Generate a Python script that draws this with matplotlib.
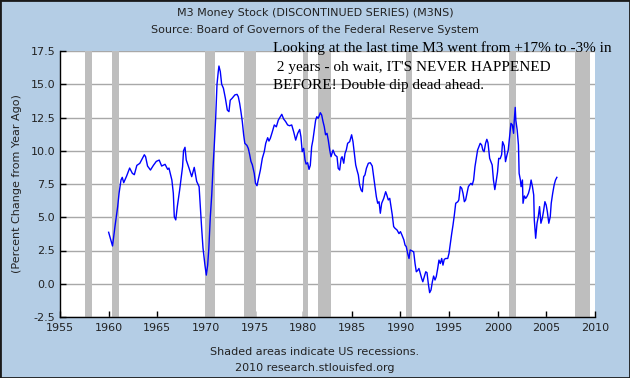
import matplotlib
matplotlib.use("Agg")
import matplotlib.pyplot as plt
from matplotlib.patches import Rectangle

# M3 year-over-year growth (decimal year, percent)
years = [
    1960.00, 1960.40, 1960.65, 1960.93, 1961.07, 1961.27, 1961.40, 1961.55, 1961.85, 1962.16,
    1962.44, 1962.64, 1962.90, 1963.20, 1963.67, 1963.80, 1964.00, 1964.30, 1964.60, 1964.90,
    1965.20, 1965.45, 1965.80, 1966.07, 1966.20, 1966.50, 1966.65, 1966.75, 1966.90, 1967.06,
    1967.30, 1967.60, 1967.70, 1967.85, 1967.98, 1968.26, 1968.54, 1968.80, 1969.05, 1969.30,
    1969.43, 1969.56, 1969.70, 1969.90, 1970.04, 1970.18, 1970.30, 1970.45, 1970.60, 1970.73,
    1970.86, 1971.00, 1971.14, 1971.27, 1971.34, 1971.48, 1971.62, 1971.80, 1972.00, 1972.20,
    1972.37, 1972.50, 1972.70, 1972.98, 1973.20, 1973.33, 1973.47, 1973.60, 1973.74, 1973.88,
    1974.00, 1974.22, 1974.36, 1974.50, 1974.63, 1974.77, 1974.97, 1975.10, 1975.25, 1975.38,
    1975.60, 1975.80, 1976.00, 1976.15, 1976.35, 1976.48, 1976.62, 1976.83, 1977.03, 1977.24,
    1977.44, 1977.65, 1977.80, 1977.99, 1978.20, 1978.40, 1978.60, 1978.82, 1979.02, 1979.23,
    1979.43, 1979.64, 1979.77, 1979.90, 1980.05, 1980.19, 1980.30, 1980.46, 1980.60, 1980.73,
    1980.87, 1981.00, 1981.14, 1981.28, 1981.40, 1981.55, 1981.76, 1981.90, 1982.04, 1982.17,
    1982.30, 1982.45, 1982.58, 1982.73, 1982.86, 1983.07, 1983.27, 1983.48, 1983.60, 1983.75,
    1983.90, 1984.00, 1984.17, 1984.30, 1984.43, 1984.57, 1984.78, 1984.98, 1985.12, 1985.26,
    1985.40, 1985.53, 1985.67, 1985.80, 1985.95, 1986.08, 1986.22, 1986.35, 1986.50, 1986.70,
    1986.90, 1987.10, 1987.25, 1987.38, 1987.52, 1987.66, 1987.80, 1987.93, 1988.07, 1988.28,
    1988.48, 1988.60, 1988.75, 1988.90, 1989.03, 1989.16, 1989.30, 1989.44, 1989.65, 1989.85,
    1990.00, 1990.15, 1990.35, 1990.47, 1990.60, 1990.74, 1990.88, 1991.00, 1991.15, 1991.36,
    1991.50, 1991.63, 1991.77, 1991.90, 1992.04, 1992.18, 1992.30, 1992.45, 1992.60, 1992.73,
    1992.86, 1993.00, 1993.14, 1993.28, 1993.41, 1993.55, 1993.68, 1993.83, 1993.96, 1994.10,
    1994.24, 1994.37, 1994.50, 1994.65, 1994.86, 1994.99, 1995.13, 1995.27, 1995.40, 1995.54,
    1995.68, 1995.90, 1996.00, 1996.15, 1996.30, 1996.43, 1996.57, 1996.70, 1996.84, 1996.98,
    1997.10, 1997.25, 1997.38, 1997.52, 1997.66, 1997.80, 1997.93, 1998.06, 1998.20, 1998.35,
    1998.47, 1998.60, 1998.75, 1998.88, 1999.00, 1999.17, 1999.30, 1999.43, 1999.56, 1999.70,
    1999.84, 1999.98, 2000.10, 2000.25, 2000.40, 2000.50, 2000.67, 2000.80, 2000.95, 2001.08,
    2001.22, 2001.36, 2001.50, 2001.63, 2001.70, 2001.80, 2001.86, 2002.00, 2002.07, 2002.13,
    2002.20, 2002.33, 2002.40, 2002.54, 2002.60, 2002.74, 2002.88, 2003.00, 2003.16, 2003.30,
    2003.43, 2003.57, 2003.70, 2003.76, 2003.90, 2004.04, 2004.17, 2004.30, 2004.44, 2004.58,
    2004.70, 2004.85, 2004.98, 2005.10, 2005.25, 2005.40, 2005.50, 2005.65, 2005.80, 2005.94,
    2006.08,
]
growth = [
    3.87, 2.84, 4.30, 5.80, 6.80, 7.80, 8.00, 7.60, 8.10, 8.70,
    8.30, 8.20, 8.90, 9.05, 9.70, 9.55, 8.85, 8.55, 8.90, 9.20,
    9.30, 8.85, 8.98, 8.60, 8.70, 7.80, 6.80, 5.04, 4.80, 5.80,
    7.05, 8.80, 10.00, 10.26, 9.30, 8.70, 8.05, 8.75, 7.70, 7.30,
    5.70, 4.20, 2.70, 1.40, 0.65, 1.40, 2.66, 5.00, 6.70, 8.70,
    10.40, 12.40, 15.00, 15.95, 16.37, 15.95, 15.00, 14.70, 13.95, 13.06,
    12.94, 13.80, 13.95, 14.20, 14.24, 14.06, 13.56, 12.94, 12.20, 11.20,
    10.56, 10.40, 10.17, 9.70, 9.20, 8.95, 8.30, 7.55, 7.37, 7.80,
    8.55, 9.43, 9.93, 10.56, 10.98, 10.73, 10.93, 11.43, 11.94, 11.80,
    12.30, 12.56, 12.74, 12.39, 12.19, 11.94, 11.88, 11.94, 11.43, 10.80,
    11.30, 11.60, 11.05, 9.93, 10.18, 9.30, 9.00, 9.10, 8.60, 8.90,
    10.30, 10.80, 11.56, 12.30, 12.56, 12.44, 12.86, 12.69, 12.19, 11.80,
    11.20, 11.31, 10.80, 10.05, 9.55, 10.05, 9.68, 9.55, 8.68, 8.55,
    9.43, 9.55, 9.06, 9.80, 10.05, 10.56, 10.68, 11.20, 10.68, 9.80,
    8.93, 8.55, 8.18, 7.43, 7.05, 6.92, 8.05, 8.18, 8.68, 9.06,
    9.10, 8.85, 8.05, 7.30, 6.55, 6.05, 6.17, 5.30, 6.05, 6.42,
    6.92, 6.67, 6.30, 6.42, 5.80, 5.17, 4.30, 4.17, 4.04, 3.77,
    3.92, 3.67, 3.30, 2.91, 2.79, 2.28, 1.90, 2.54, 2.48, 2.40,
    1.52, 0.90, 1.00, 1.15, 0.77, 0.40, 0.15, 0.53, 0.90, 0.83,
    0.03, -0.67, -0.47, 0.15, 0.58, 0.28, 0.53, 1.15, 1.78, 1.52,
    1.90, 1.40, 1.83, 1.90, 1.90, 2.28, 3.03, 3.78, 4.40, 5.17,
    6.05, 6.17, 6.30, 7.30, 7.18, 6.80, 6.17, 6.30, 6.80, 7.30,
    7.43, 7.55, 7.43, 7.80, 8.80, 9.43, 10.05, 10.30, 10.56, 10.43,
    10.05, 9.93, 10.56, 10.86, 10.60, 9.43, 9.18, 8.93, 7.80, 7.08,
    7.70, 8.40, 9.43, 9.40, 9.70, 10.68, 10.36, 9.18, 9.68, 10.05,
    11.05, 12.06, 11.94, 11.31, 12.30, 13.26, 12.30, 11.56, 10.93, 10.43,
    8.30, 7.80, 7.30, 7.80, 6.05, 6.60, 6.42, 6.55, 6.80, 7.18,
    7.80, 7.30, 6.67, 4.80, 3.42, 4.55, 5.04, 5.80, 4.55, 4.92,
    5.42, 6.17, 5.92, 5.42, 4.55, 5.04, 6.05, 6.80, 7.43, 7.80,
    8.00,
]

# NBER recessions (start, end) as decimal years
rec_start = [1957.6, 1960.3, 1969.9, 1973.9, 1980.0, 1981.5, 1990.55, 2001.2, 2007.9]
rec_end = [1958.3, 1961.1, 1970.9, 1975.2, 1980.5, 1982.9, 1991.2, 2001.9, 2009.5]

x_ticks = list(range(1955, 2011, 5))
y_ticks = [-2.5, 0.0, 2.5, 5.0, 7.5, 10.0, 12.5, 15.0, 17.5]

bg = "#b4cde5"
txt = "#222222"

fig = plt.figure(figsize=(6.3, 3.78), dpi=100, facecolor=bg)
ax = fig.add_axes([60 / 630, 1 - 317 / 378, 535 / 630, 266 / 378])
ax.set_facecolor("white")

for s, e in zip(rec_start, rec_end):
    ax.axvspan(s, e, color="#bebebe", lw=0, zorder=1)

ax.plot(years, growth, color="#0000ff", lw=1.0, zorder=3)

ax.set_xlim(1955, 2010)
ax.set_ylim(-2.5, 17.5)
ax.set_xticks(x_ticks)
ax.set_yticks(y_ticks)
ax.set_yticklabels([f"{v:.1f}" for v in y_ticks])
ax.yaxis.grid(True, color="#a8a8a8", lw=1, zorder=0)
ax.set_axisbelow(True)
ax.tick_params(direction="in", length=4, width=1, labelsize=8, labelcolor=txt, color="black")
ax.tick_params(axis="x", pad=4)
for side in ["top", "right"]:
    ax.spines[side].set_visible(False)
for side in ["left", "bottom"]:
    ax.spines[side].set_color("black")
    ax.spines[side].set_linewidth(1)

ax.set_ylabel("(Percent Change from Year Ago)", fontsize=8, color=txt, labelpad=6)

fig.text(0.5, 1 - 13 / 378, "M3 Money Stock (DISCONTINUED SERIES) (M3NS)",
         ha="center", va="center", fontsize=8, color=txt)
fig.text(0.5, 1 - 30 / 378, "Source: Board of Governors of the Federal Reserve System",
         ha="center", va="center", fontsize=8, color=txt)
fig.text(0.5, 1 - 352 / 378, "Shaded areas indicate US recessions.",
         ha="center", va="center", fontsize=8, color=txt)
fig.text(0.5, 1 - 368 / 378, "2010 research.stlouisfed.org",
         ha="center", va="center", fontsize=8, color=txt)

note = ("Looking at the last time M3 went from +17% to -3% in\n"
        " 2 years - oh wait, IT'S NEVER HAPPENED\n"
        "BEFORE! Double dip dead ahead.")
fig.text(273 / 630, 1 - 41 / 378, note, ha="left", va="top",
         fontsize=11, family="Liberation Serif", color="black",
         linespacing=1.58, zorder=10)

fig.patches.append(Rectangle((0, 0), 1, 1, transform=fig.transFigure,
                             fill=False, edgecolor="#1a1a1a", lw=2))

fig.savefig("out.png", dpi=100, facecolor=bg)
